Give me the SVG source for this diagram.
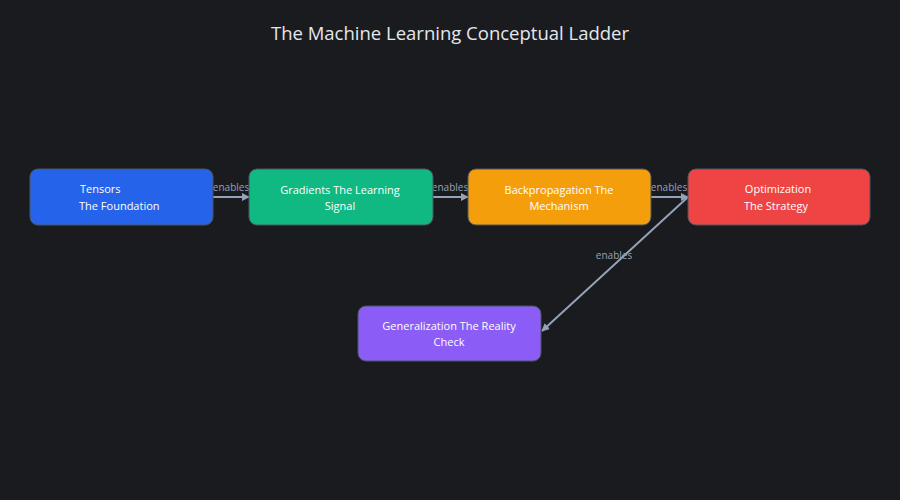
<svg xmlns="http://www.w3.org/2000/svg" width="900" height="500" viewBox="0 0 900 500">
<defs>
<marker id="arr" viewBox="0 0 10 10" refX="9" refY="5" markerWidth="8" markerHeight="8" markerUnits="userSpaceOnUse" orient="auto">
<path d="M0,0 L10,5 L0,10 z" fill="#94a3b8"/>
</marker>
</defs>
<style>
.node rect{stroke:#4b5563;stroke-width:1}
.node text{font-family:"Open Sans","Noto Sans",sans-serif;font-size:11px;fill:#ffffff}
.edge{stroke:#94a3b8;stroke-width:2;fill:none;marker-end:url(#arr)}
.elabel{font-family:"Open Sans","Noto Sans",sans-serif;font-size:10px;fill:#94a3b8;text-anchor:middle}
.c{text-anchor:middle}
</style>
<rect width="900" height="500" fill="#1a1b1f"/>
<text x="450" y="40" text-anchor="middle" font-family="'Open Sans','Noto Sans',sans-serif" font-size="18.5" fill="#e5e7eb">The Machine Learning Conceptual Ladder</text>
<g id="connectors">
<line class="edge" x1="213" y1="197" x2="249" y2="197"/>
<text class="elabel" x="231" y="191">enables</text>
<line class="edge" x1="433" y1="197" x2="468" y2="197"/>
<text class="elabel" x="450" y="191">enables</text>
<line class="edge" x1="651" y1="197" x2="688" y2="197"/>
<text class="elabel" x="669" y="191">enables</text>
<line class="edge" x1="688" y1="197" x2="542" y2="331"/>
<text class="elabel" x="614" y="259">enables</text>
</g>
<g id="tensors" class="node">
<rect x="30" y="169" width="183" height="56" rx="8" fill="#2563eb"/>
<text x="80" y="193">Tensors</text>
<text x="79" y="210">The Foundation</text>
</g>
<g id="gradients" class="node">
<rect x="249" y="169" width="184" height="56" rx="8" fill="#10b981"/>
<text class="c" x="340" y="194">Gradients The Learning</text>
<text class="c" x="340" y="210">Signal</text>
</g>
<g id="backprop" class="node">
<rect x="468" y="169" width="183" height="56" rx="8" fill="#f59e0b"/>
<text class="c" x="559" y="194">Backpropagation The</text>
<text class="c" x="559" y="210">Mechanism</text>
</g>
<g id="optimization" class="node">
<rect x="688" y="169" width="182" height="56" rx="8" fill="#ef4444"/>
<text class="c" x="778" y="193">Optimization</text>
<text class="c" x="776" y="210">The Strategy</text>
</g>
<g id="generalization" class="node">
<rect x="358" y="306" width="183" height="55" rx="8" fill="#8b5cf6"/>
<text class="c" x="449" y="330">Generalization The Reality</text>
<text class="c" x="449" y="346">Check</text>
</g>
</svg>
